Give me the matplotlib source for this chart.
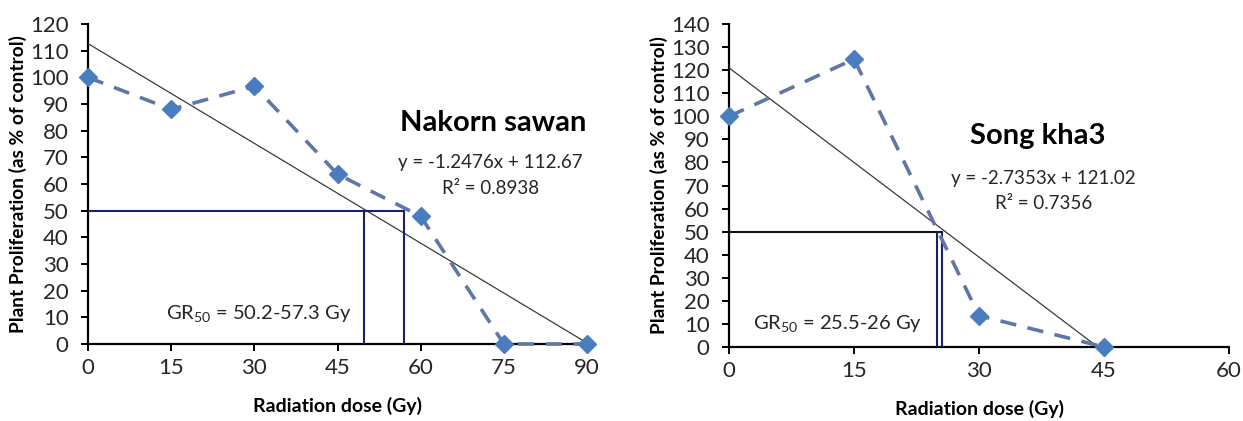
import matplotlib
matplotlib.use("Agg")
import matplotlib.pyplot as plt

plt.rcParams['font.family'] = ['Lato', 'DejaVu Sans']
plt.rcParams['mathtext.fontset'] = 'custom'
plt.rcParams['mathtext.rm'] = 'Lato'
plt.rcParams['mathtext.default'] = 'regular'

# Nakorn sawan
dose_ns = [0, 15, 30, 45, 60, 75, 90]
prolif_ns = [100, 88, 96.7, 63.7, 47.9, 0, 0]
slope_ns, icpt_ns = -1.2476, 112.67
gr50_ns = [49.7, 57.0]

# Song kha3
dose_sk = [0, 15, 30, 45]
prolif_sk = [100, 124.8, 13.6, 0]
slope_sk, icpt_sk = -2.7353, 121.02
gr50_sk = [25.0, 25.6]

series_col = '#5f76a6'
marker_col = '#4a7dbf'
ref_col = '#1c1f6e'

fig = plt.figure(figsize=(12.43, 4.21), dpi=100)
ax1 = fig.add_axes([0.0708, 0.1829, 0.4015, 0.760])
ax2 = fig.add_axes([0.5865, 0.1758, 0.4023, 0.767])


def draw(ax, dose, prolif, slope, icpt, gr50, xmax, ymax, xticks, hcol):
    # trend line from intercept down to the x-intercept
    x0 = -icpt / slope
    ax.plot([0, x0], [icpt, 0], color='#3a3a3a', lw=0.9, zorder=2)
    # GR50 guide lines
    ax.plot([0, gr50[1]], [50, 50], color=hcol, lw=1.5, zorder=3)
    for g in gr50:
        ax.plot([g, g], [0, 50], color=ref_col, lw=1.5, zorder=3)
    ax.plot(dose, prolif, color=series_col, lw=2.6, ls=(0, (4.5, 3.2)),
            marker='D', ms=9, mfc=marker_col, mec=marker_col, zorder=4,
            clip_on=False)
    ax.set_xlim(0, xmax)
    ax.set_ylim(0, ymax)
    ax.set_xticks(xticks)
    ax.set_yticks(range(0, ymax + 1, 10))
    for s in ['top', 'right']:
        ax.spines[s].set_visible(False)
    for s in ['left', 'bottom']:
        ax.spines[s].set_linewidth(1.6)
        ax.spines[s].set_zorder(1)
    ax.tick_params(axis='both', direction='out', length=5, width=1.4,
                   labelsize=16, colors='black')
    ax.tick_params(axis='y', pad=9)
    ax.tick_params(axis='x', pad=5)
    for lab in ax.get_xticklabels() + ax.get_yticklabels():
        lab.set_color('#262626')
    ax.set_xlabel('Radiation dose (Gy)', fontsize=14, fontweight='bold',
                  labelpad=14)
    ax.set_ylabel('Plant Proliferation (as % of control)', fontsize=13.8,
                  fontweight='bold', labelpad=2)


draw(ax1, dose_ns, prolif_ns, slope_ns, icpt_ns, gr50_ns, 90, 120,
     range(0, 91, 15), ref_col)
draw(ax2, dose_sk, prolif_sk, slope_sk, icpt_sk, gr50_sk, 60, 140,
     range(0, 61, 15), '#111111')

ax1.text(73, 82.7, 'Nakorn sawan', fontsize=21, fontweight='bold',
         ha='center', va='center')
ax1.text(72.6, 68, 'y = -1.2476x + 112.67', fontsize=13.5, ha='center',
         va='center', color='#262626')
ax1.text(72.6, 58.5, 'R² = 0.8938', fontsize=13.5, ha='center',
         va='center', color='#262626')
ax1.text(14, 11.3, 'GR$_{50}$ = 50.2-57.3 Gy', fontsize=14.5, ha='left',
         va='center', color='#262626')

ax2.text(37, 91.5, 'Song kha3', fontsize=21, fontweight='bold',
         ha='center', va='center')
ax2.text(37.7, 73.1, 'y = -2.7353x + 121.02', fontsize=13.5, ha='center',
         va='center', color='#262626')
ax2.text(37.7, 62.3, 'R² = 0.7356', fontsize=13.5, ha='center',
         va='center', color='#262626')
ax2.text(2.85, 10.4, 'GR$_{50}$ = 25.5-26 Gy', fontsize=14.5, ha='left',
         va='center', color='#262626')

fig.savefig('out.png', dpi=100)
